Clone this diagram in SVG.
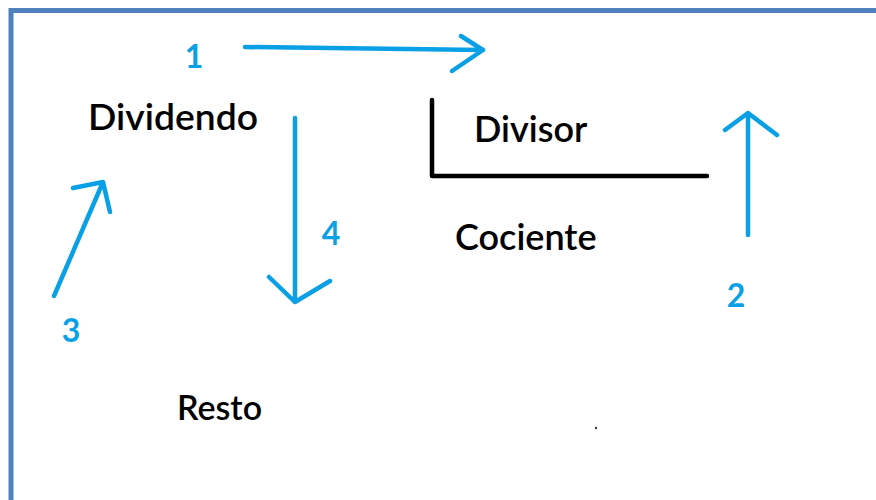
<svg xmlns="http://www.w3.org/2000/svg" width="876" height="500" viewBox="0 0 876 500">
<style>
.lbl{font-family:Lato,"Open Sans","Liberation Sans",sans-serif;font-weight:600;fill:#000;}
.num{font-family:Lato,"Open Sans","Liberation Sans",sans-serif;font-weight:700;fill:#0AA0E6;font-size:32px;}
.arr{fill:none;stroke:#0AA0E6;stroke-width:4.5;stroke-linecap:round;stroke-linejoin:round;}
.frame{fill:none;stroke:#4F81BD;stroke-width:5;}
</style>
<rect width="876" height="500" fill="#fff"/>
<path class="frame" d="M11,500 V10.5 H876"/>
<g id="dividendo"><text class="lbl" x="88" y="130" font-size="37" textLength="170" lengthAdjust="spacingAndGlyphs">Dividendo</text></g>
<g id="divisor">
<text class="lbl" x="474" y="142" font-size="36">Divisor</text>
<path d="M432,100 V176 H707" fill="none" stroke="#000" stroke-width="4.5" stroke-linecap="round" stroke-linejoin="round"/>
</g>
<g id="cociente"><text class="lbl" x="455" y="250" font-size="36">Cociente</text></g>
<g id="resto"><text class="lbl" x="177" y="420" font-size="34">Resto</text></g>
<g id="connectors">
<path class="arr" d="M245,47 L483,50 M461,36 L483,50 L452,71"/>
<path class="arr" d="M748,235 V113 M725,130 L748,113 L777,135"/>
<path class="arr" d="M54,296 L103,182 M73,188 L103,182 L110,212"/>
<path class="arr" d="M295,118 V302 M269,277 L295,302 L330,281"/>
</g>
<g id="numbers">
<text class="num" x="194" y="68" text-anchor="middle">1</text>
<text class="num" x="736" y="307" text-anchor="middle">2</text>
<text class="num" x="71" y="342" text-anchor="middle">3</text>
<text class="num" x="331" y="245" text-anchor="middle">4</text>
</g>
<circle cx="596" cy="428" r="1.2" fill="#333"/>
</svg>
